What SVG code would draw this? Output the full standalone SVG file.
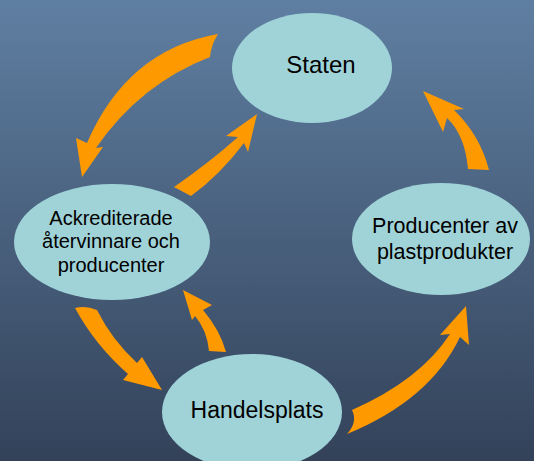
<svg xmlns="http://www.w3.org/2000/svg" width="534" height="461" viewBox="0 0 534 461">
<defs>
<linearGradient id="bg" x1="0" y1="0" x2="0" y2="1">
<stop offset="0" stop-color="#5f7fa2"/>
<stop offset="1" stop-color="#334259"/>
</linearGradient>
<style>
.node{fill:#a0d3d8;}
.arr{fill:#ff9900;}
text{font-family:"Liberation Sans",Arial,sans-serif;fill:#000;text-anchor:middle;}
</style>
</defs>
<rect width="534" height="461" fill="url(#bg)"/>
<g id="connectors">
<path class="arr" d="M218,34 Q127,50 87,143 L76,138 L82,177 L103,147 L96,148 Q140,84 210,57 Q211,45 218,34 Z"/>
<path class="arr" d="M174,187 Q210,162 238,137 L226,136 L257,114 L248,152 L244,143 Q220,175 191,196 Z"/>
<path class="arr" d="M468,169 Q465,135 447,118 L443,132 L423,91 L464,109 L454,110 Q480,135 489,170 Z"/>
<path class="arr" d="M75,308 Q95,345 128,374 L123,380 L162,390 L142,357 L137,363 Q112,340 97,310 Q86,305 75,308 Z"/>
<path class="arr" d="M209,351 Q207,330 195,316 L192,320 L183,290 L212,305 L203,310 Q220,330 226,352 Z"/>
<path class="arr" d="M352,410 Q420,380 450,334 L440,335 L466,306 L469,345 L460,337 Q430,400 347,434 Q358,422 352,410 Z"/>
</g>
<g id="staten">
<ellipse class="node" cx="312" cy="68" rx="80" ry="55"/>
<text x="321" y="73" font-size="24">Staten</text>
</g>
<g id="ackrediterade">
<ellipse class="node" cx="112" cy="242" rx="98" ry="58"/>
<text x="111" y="225" font-size="20">Ackrediterade</text>
<text x="111" y="248" font-size="20">återvinnare och</text>
<text x="111" y="272" font-size="20">producenter</text>
</g>
<g id="producenter">
<ellipse class="node" cx="441" cy="239" rx="89" ry="56"/>
<text x="445" y="233" font-size="21.5">Producenter av</text>
<text x="445" y="259" font-size="21.5">plastprodukter</text>
</g>
<g id="handelsplats">
<ellipse class="node" cx="252" cy="412" rx="90" ry="58"/>
<text x="257" y="418" font-size="23">Handelsplats</text>
</g>
</svg>
